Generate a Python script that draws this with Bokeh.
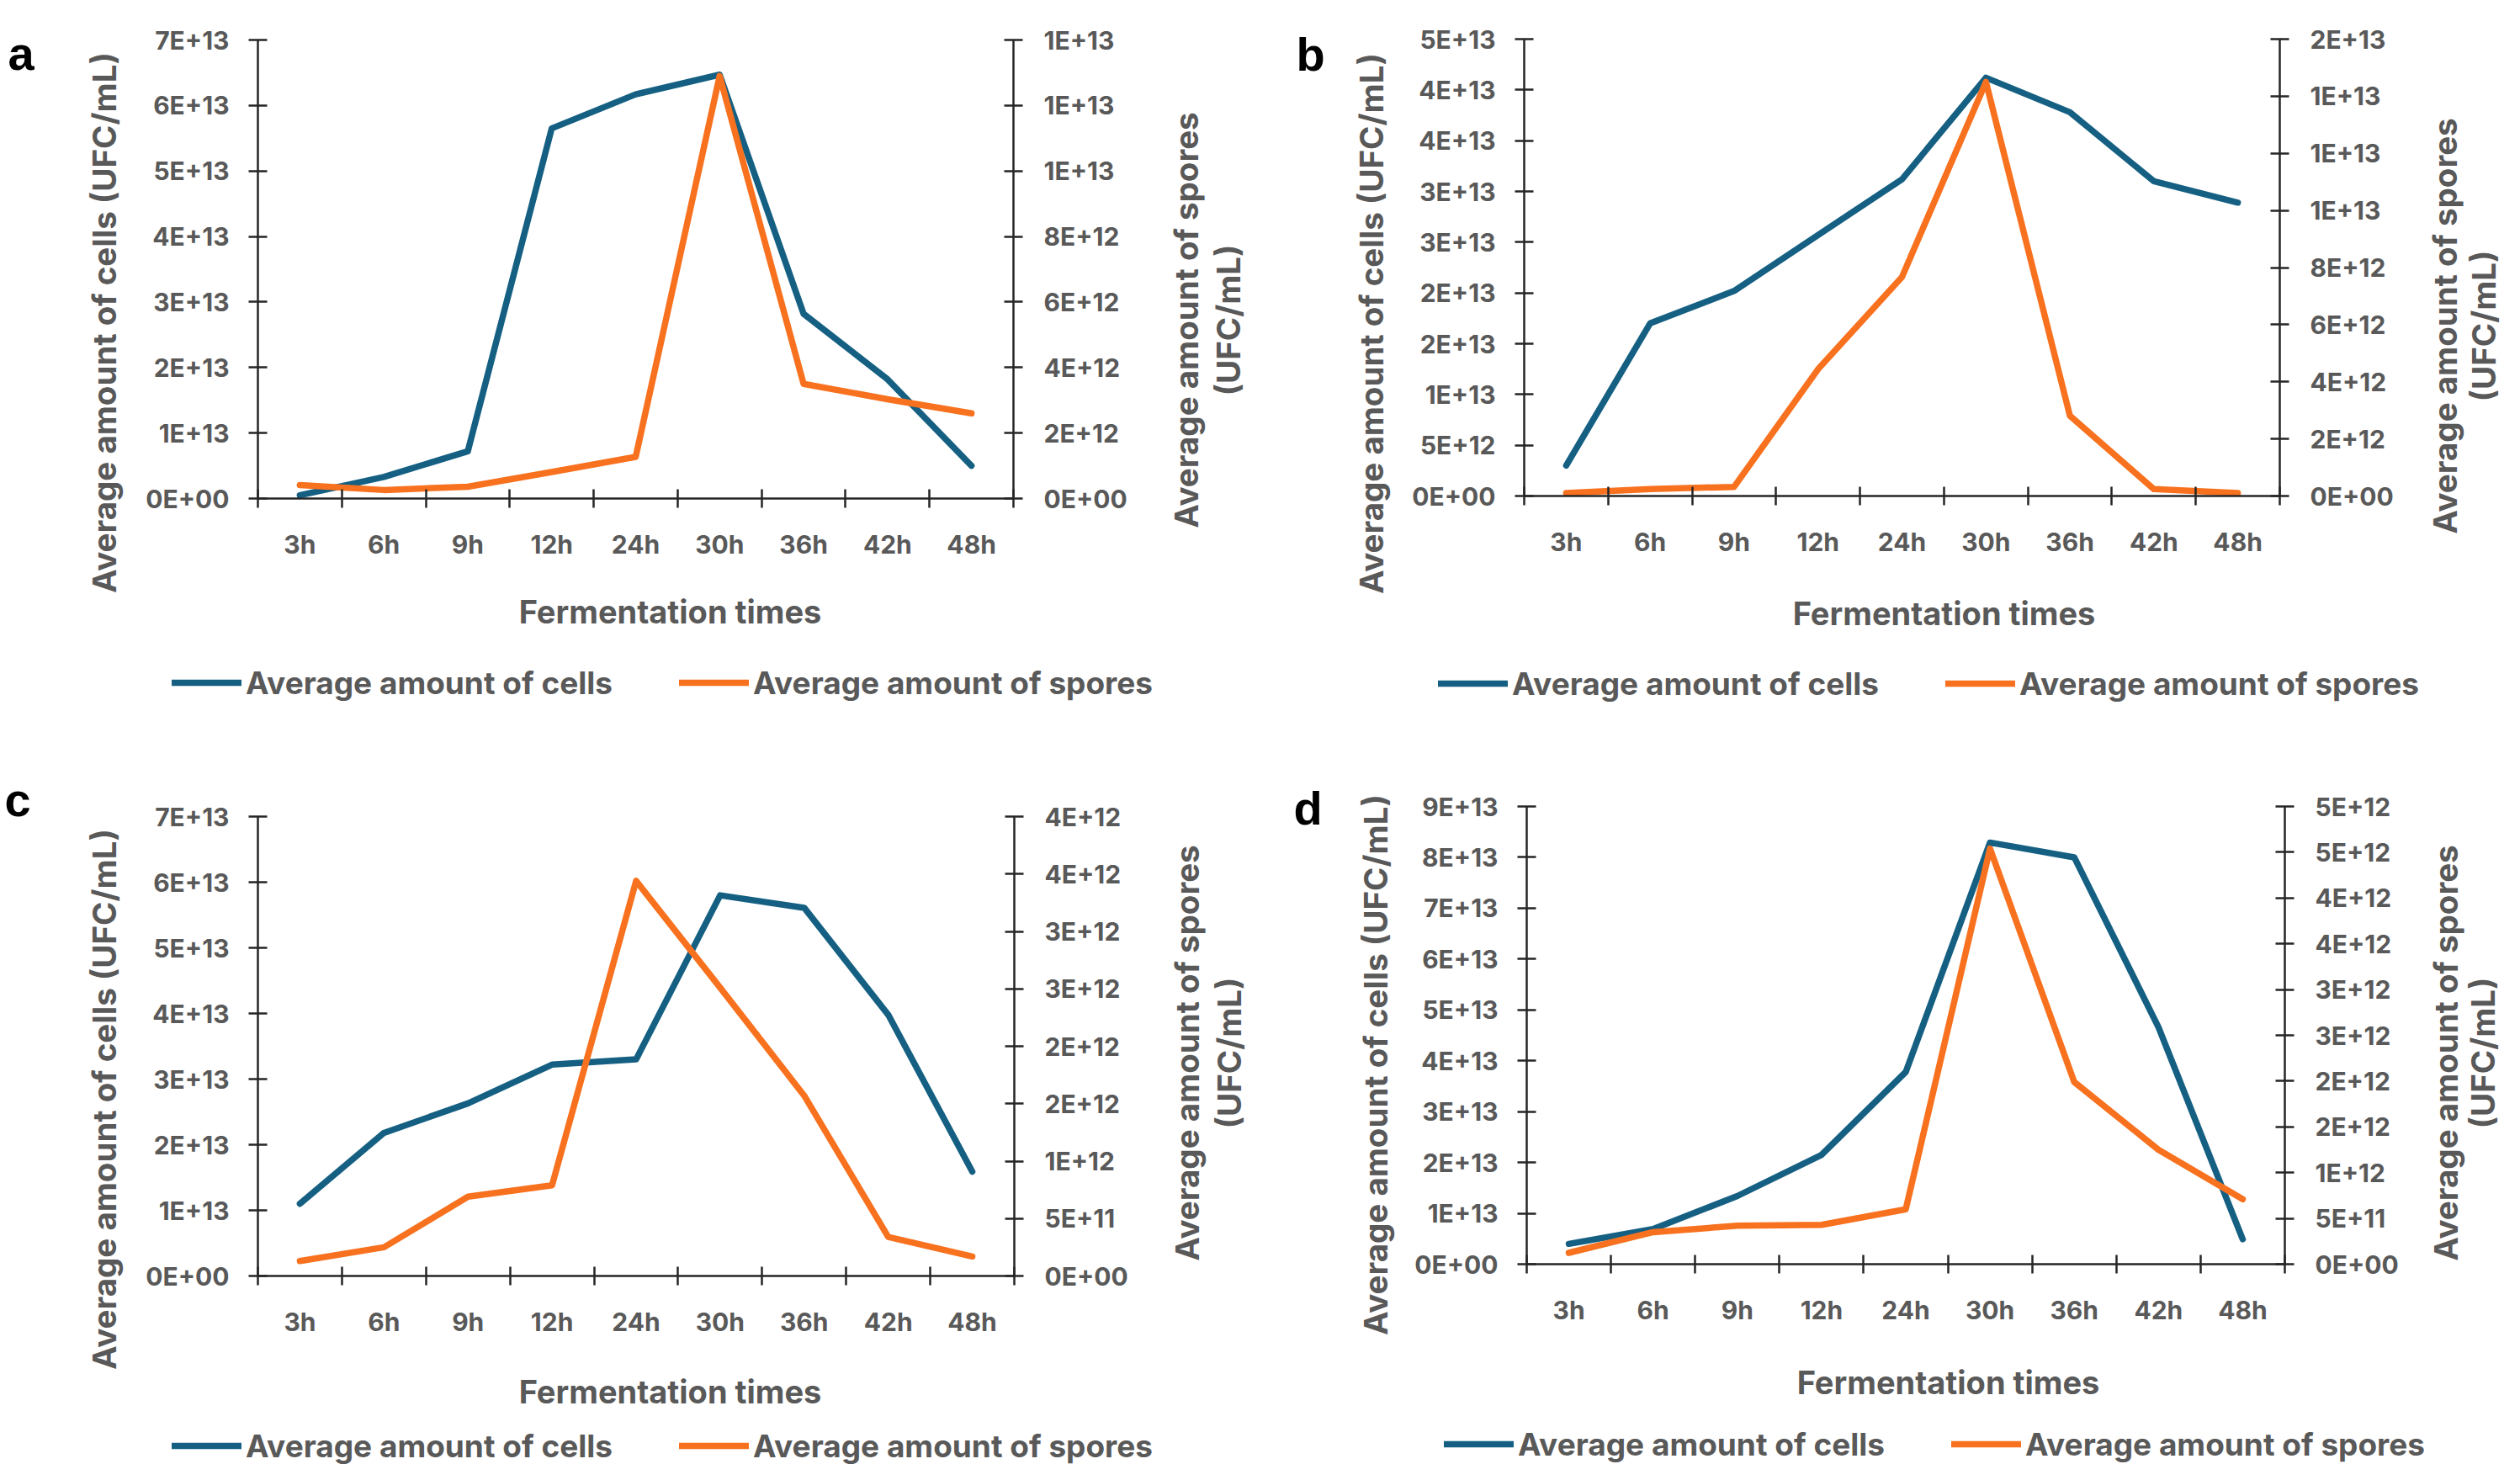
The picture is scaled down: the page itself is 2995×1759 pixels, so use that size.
import math
from bokeh.plotting import figure
from bokeh.models import Range1d, LinearAxis, FixedTicker, Label, Legend, LegendItem
from bokeh.layouts import row, column
from bokeh.embed import file_html
from bokeh.resources import INLINE

# ---------------- data ----------------
TIMES = ["3h", "6h", "9h", "12h", "24h", "30h", "36h", "42h", "48h"]

CELLS_A = [5.0e11, 3.3e12, 7.2e12, 5.65e13, 6.17e13, 6.47e13, 2.82e13, 1.82e13, 5.0e12]
SPORES_A = [4.1e11, 2.6e11, 3.6e11, 8.1e11, 1.27e12, 1.29e13, 3.5e12, 3.03e12, 2.6e12]

CELLS_B = [3.0e12, 1.70e13, 2.02e13, 2.57e13, 3.12e13, 4.12e13, 3.78e13, 3.10e13, 2.89e13]
SPORES_B = [1.0e11, 2.4e11, 3.2e11, 4.44e12, 7.67e12, 1.45e13, 2.81e12, 2.4e11, 1.0e11]

CELLS_C = [1.10e13, 2.18e13, 2.63e13, 3.22e13, 3.30e13, 5.80e13, 5.61e13, 3.98e13, 1.59e13]
SPORES_C = [1.3e11, 2.5e11, 6.9e11, 7.9e11, 3.44e12, 2.51e12, 1.57e12, 3.4e11, 1.7e11]

CELLS_D = [4.0e12, 6.9e12, 1.34e13, 2.15e13, 3.78e13, 8.29e13, 8.00e13, 4.66e13, 4.9e12]
SPORES_D = [1.24e11, 3.5e11, 4.2e11, 4.3e11, 6.0e11, 4.54e12, 1.99e12, 1.25e12, 7.1e11]

# axis maxima and tick steps (left = cells, right = spores)
LEFT_AXIS_A = (7e13, 1e13)
RIGHT_AXIS_A = (1.4e13, 2e12)
LEFT_AXIS_B = (4.5e13, 5e12)
RIGHT_AXIS_B = (1.6e13, 2e12)
LEFT_AXIS_C = (7e13, 1e13)
RIGHT_AXIS_C = (4e12, 5e11)
LEFT_AXIS_D = (9e13, 1e13)
RIGHT_AXIS_D = (5e12, 5e11)

CELLS_LABEL = "Average amount of cells"
SPORES_LABEL = "Average amount of spores"
X_TITLE = "Fermentation times"
LEFT_TITLE = "Average amount of cells (UFC/mL)"
RIGHT_TITLE_1 = "Average amount of spores"
RIGHT_TITLE_2 = "(UFC/mL)"

# ---------------- style ----------------
FONT = "Inter"
TXT = "#595959"
AXC = "#262626"
BLUE = "#156082"
ORANGE = "#F8711F"
LW = 7.5
TICK_FS = "30px"
TITLE_FS = "38.5px"
XTITLE_FS = "38px"
LEGEND_FS = "37px"
ROT_SHIFT = 4      # small correction of 'middle' placement for rotated titles
HOR_SHIFT = 6      # same for horizontal titles
LEGEND_SHIFT = 7   # same for the legend row


def excel_fmt(v):
    if v == 0:
        return "0E+00"
    e = int(math.floor(math.log10(v) + 1e-12))
    m = int(math.floor(v / 10 ** e + 0.5 + 1e-9))
    if m >= 10:
        m //= 10
        e += 1
    return f"{m}E+{e:02d}"


def make_ticks(vmax, step):
    n = int(round(vmax / step))
    return [step * i for i in range(n + 1)]


def style_axis(ax):
    ax.axis_line_color = AXC
    ax.axis_line_width = 2.5
    ax.major_tick_line_color = AXC
    ax.major_tick_line_width = 2.5
    ax.major_tick_in = 11
    ax.major_tick_out = 11
    ax.minor_tick_line_color = None
    ax.major_label_text_font = FONT
    ax.major_label_text_font_style = "bold"
    ax.major_label_text_color = TXT
    ax.major_label_text_font_size = TICK_FS


# page positions (page pixel coords) for each panel
PANELS = [
    dict(letter="a", cells=CELLS_A, spores=SPORES_A, left=LEFT_AXIS_A, right=RIGHT_AXIS_A,
         W=1500, H=880, ox=8, oy=8, FL=314, FR=1212, FT=55, FB=600,
         letter_pos=(17, 71), ltitle=(127, 391), rtitle=(1413, 1463, 388),
         xtitle=(804, 728), legend=(212, 812)),
    dict(letter="b", cells=CELLS_B, spores=SPORES_B, left=LEFT_AXIS_B, right=RIGHT_AXIS_B,
         W=1479, H=880, ox=1508, oy=8, FL=1819, FR=2717, FT=54, FB=597,
         letter_pos=(1548, 72), ltitle=(1633, 392), rtitle=(2909, 2955, 395),
         xtitle=(2318, 730), legend=(1717, 813)),
    dict(letter="c", cells=CELLS_C, spores=SPORES_C, left=LEFT_AXIS_C, right=RIGHT_AXIS_C,
         W=1500, H=863, ox=8, oy=888, FL=314, FR=1213, FT=978, FB=1524,
         letter_pos=(13, 958), ltitle=(127, 1314), rtitle=(1414, 1464, 1259),
         xtitle=(804, 1655), legend=(212, 1719)),
    dict(letter="d", cells=CELLS_D, spores=SPORES_D, left=LEFT_AXIS_D, right=RIGHT_AXIS_D,
         W=1479, H=863, ox=1508, oy=888, FL=1822, FR=2723, FT=966, FB=1510,
         letter_pos=(1545, 968), ltitle=(1638, 1273), rtitle=(2910, 2954, 1259),
         xtitle=(2323, 1644), legend=(1724, 1717)),
]


def make_panel(cfg):
    W, H, ox, oy = cfg["W"], cfg["H"], cfg["ox"], cfg["oy"]
    # plot-area edges relative to this figure (frame = whole figure)
    fl, fr = cfg["FL"] - ox, cfg["FR"] - ox
    ft, fb = cfg["FT"] - oy, cfg["FB"] - oy
    lmax, lstep = cfg["left"]
    rmax, rstep = cfg["right"]
    n = len(TIMES)
    xs = [i + 0.5 for i in range(n)]

    kx = n / (fr - fl)
    x_range = Range1d(-fl * kx, (W - fl) * kx)

    def vrange(vmax):
        k = vmax / (fb - ft)
        return Range1d(-(H - fb) * k, vmax + ft * k)

    p = figure(width=W, height=H, x_range=x_range, y_range=vrange(lmax),
               output_backend="svg", toolbar_location=None,
               min_border=0, min_border_left=0, min_border_right=0,
               min_border_top=0, min_border_bottom=0)
    p.outline_line_color = None
    p.xgrid.visible = False
    p.ygrid.visible = False
    p.background_fill_color = "white"
    p.border_fill_color = "white"
    p.extra_y_ranges = {"r": vrange(rmax)}

    # x axis: labels at category centres, tick marks at category boundaries
    xa = p.xaxis[0]
    style_axis(xa)
    xa.fixed_location = 0
    xa.bounds = (0, n)
    xa.ticker = FixedTicker(ticks=xs, minor_ticks=list(range(n + 1)))
    xa.major_label_overrides = {x: t for x, t in zip(xs, TIMES)}
    xa.major_tick_line_color = None
    xa.major_tick_in = 0
    xa.major_tick_out = 0
    xa.minor_tick_line_color = AXC
    xa.minor_tick_line_width = 2.5
    xa.minor_tick_in = 11
    xa.minor_tick_out = 11
    xa.major_label_standoff = 25

    ya = p.yaxis[0]
    style_axis(ya)
    ya.fixed_location = 0
    ya.bounds = (0, lmax)
    lt = make_ticks(lmax, lstep)
    ya.ticker = FixedTicker(ticks=lt)
    ya.major_label_overrides = {v: excel_fmt(v) for v in lt}
    ya.major_label_standoff = 23

    ra = LinearAxis(y_range_name="r")
    style_axis(ra)
    ra.fixed_location = n
    ra.bounds = (0, rmax)
    rt = make_ticks(rmax, rstep)
    ra.ticker = FixedTicker(ticks=rt)
    ra.major_label_overrides = {v: excel_fmt(v) for v in rt}
    ra.major_label_standoff = 25
    p.add_layout(ra, "right")

    r1 = p.line(xs, cfg["cells"], line_color=BLUE, line_width=LW, line_join="round", line_cap="round")
    r2 = p.line(xs, cfg["spores"], y_range_name="r", line_color=ORANGE, line_width=LW,
                line_join="round", line_cap="round")

    def sx(X):
        return X - ox

    def sy(Y):
        return (oy + H) - Y

    common = dict(x_units="screen", y_units="screen", text_font=FONT, text_font_style="bold",
                  text_color=TXT)

    # panel letter
    lx, ly = cfg["letter_pos"]
    p.add_layout(Label(x=sx(lx), y=sy(ly), text=cfg["letter"], x_units="screen", y_units="screen",
                       text_font="Liberation Sans", text_font_style="bold", text_color="black",
                       text_font_size="56px", text_align="left", text_baseline="alphabetic"))

    # left axis title (rotated)
    tx, ty = cfg["ltitle"]
    p.add_layout(Label(x=sx(tx + ROT_SHIFT), y=sy(ty), text=LEFT_TITLE, angle=math.pi / 2,
                       text_align="center", text_baseline="middle", text_font_size=TITLE_FS, **common))
    # right axis title, two lines
    r1x, r2x, rty = cfg["rtitle"]
    p.add_layout(Label(x=sx(r1x + ROT_SHIFT), y=sy(rty), text=RIGHT_TITLE_1, angle=math.pi / 2,
                       text_align="center", text_baseline="middle", text_font_size=TITLE_FS, **common))
    p.add_layout(Label(x=sx(r2x + ROT_SHIFT), y=sy(rty), text=RIGHT_TITLE_2, angle=math.pi / 2,
                       text_align="center", text_baseline="middle", text_font_size=TITLE_FS, **common))
    # x axis title
    xx, xy = cfg["xtitle"]
    p.add_layout(Label(x=sx(xx), y=sy(xy + HOR_SHIFT), text=X_TITLE, text_align="center",
                       text_baseline="middle", text_font_size=XTITLE_FS, **common))

    # legend
    gx, gy = cfg["legend"]
    legend = Legend(items=[LegendItem(label=CELLS_LABEL, renderers=[r1]),
                           LegendItem(label=SPORES_LABEL, renderers=[r2])],
                    orientation="horizontal", location=(sx(gx), sy(gy + LEGEND_SHIFT) - 32),
                    glyph_width=83, glyph_height=64, label_height=64, label_standoff=5,
                    spacing=79, padding=0, margin=0,
                    border_line_color=None, background_fill_alpha=0,
                    label_text_font=FONT, label_text_font_style="bold",
                    label_text_color=TXT, label_text_font_size=LEGEND_FS)
    p.add_layout(legend)
    return p


figs = [make_panel(c) for c in PANELS]
layout = column(row(figs[0], figs[1]), row(figs[2], figs[3]))

open("out.html", "w").write(file_html(layout, INLINE))
